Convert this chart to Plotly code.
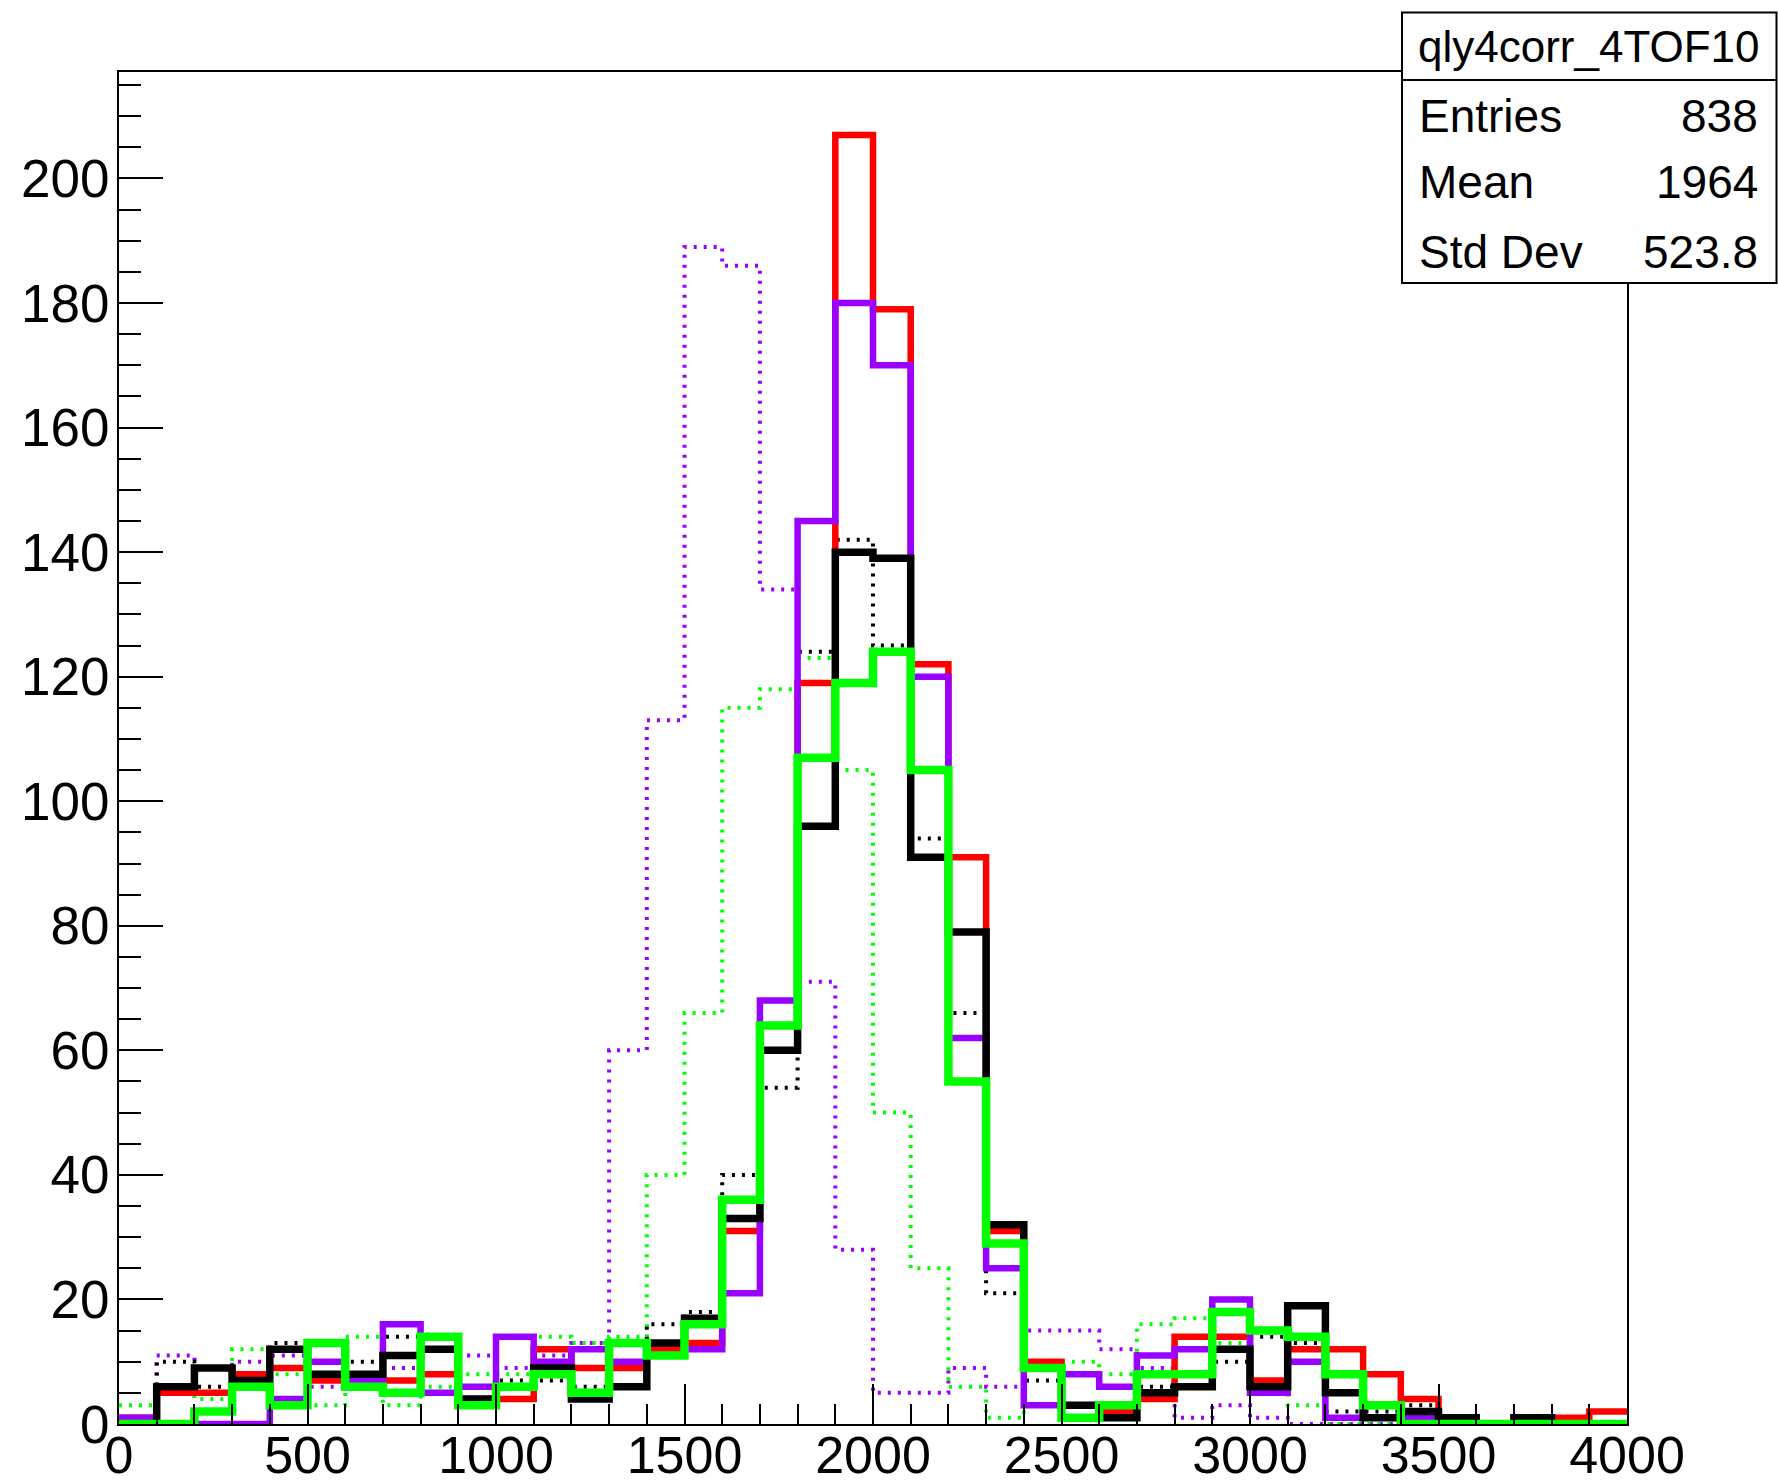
import plotly.graph_objects as go

# ---------------- data (counts per 100-wide bin, 0..4000) ----------------
BIN_WIDTH = 100
N_BINS = 40
bin_edges = [i * BIN_WIDTH for i in range(N_BINS + 1)]

red_solid = [1, 5, 5, 8, 9, 7, 7, 7, 8, 4,
             4, 12, 9, 9, 12, 13, 31, 60, 119, 207,
             179, 122, 91, 31, 10, 3, 2, 4, 14, 14,
             7, 12, 12, 8, 4, 0, 0, 1, 1, 2]
purple_solid = [1, 0, 0, 0, 4, 10, 7, 16, 5, 6,
                14, 10, 12, 10, 11, 12, 21, 68, 145, 180,
                170, 120, 62, 25, 3, 8, 6, 11, 12, 20,
                5, 10, 1, 1, 1, 0, 0, 0, 0, 0]
black_solid = [0, 6, 9, 7, 12, 8, 8, 11, 12, 4,
               6, 9, 4, 6, 13, 17, 33, 60, 96, 140,
               139, 91, 79, 32, 9, 3, 1, 5, 6, 12,
               6, 19, 5, 1, 2, 1, 0, 1, 0, 0]
green_solid = [0, 0, 2, 6, 3, 13, 6, 5, 14, 3,
               6, 8, 5, 13, 11, 16, 36, 64, 107, 119,
               124, 105, 55, 29, 9, 1, 3, 8, 8, 18,
               15, 14, 8, 3, 0, 0, 0, 0, 0, 0]
purple_dotted = [1, 11, 9, 10, 11, 6, 7, 9, 8, 11,
                 9, 11, 13, 60, 113, 189, 186, 134, 71, 28,
                 5, 5, 9, 6, 15, 15, 12, 9, 1, 3,
                 1, 0, 0, 0, 0, 0, 0, 0, 0, 0]
green_dotted = [3, 5, 4, 12, 8, 3, 14, 3, 6, 8,
                8, 14, 13, 14, 40, 66, 115, 118, 123, 105,
                50, 25, 6, 1, 3, 10, 8, 16, 17, 13,
                7, 3, 0, 0, 0, 0, 0, 1, 0, 0]
black_dotted = [1, 10, 6, 8, 13, 8, 10, 14, 12, 6,
                7, 7, 6, 9, 16, 18, 40, 54, 124, 142,
                125, 94, 66, 21, 7, 3, 2, 6, 6, 10,
                14, 13, 2, 2, 3, 1, 0, 0, 0, 0]

stats_title = "qly4corr_4TOF10"
stats_labels = ["Entries", "Mean", "Std Dev"]
stats_values = ["838", "1964", "523.8"]

Y_MAX = 217.1
X_MAX = 4000

# ---------------- layout geometry (pixels) ----------------
W, H = 1778, 1484
L, R, T, B = 119, 151, 72, 60
PW, PH = W - L - R, H - T - B


def px_x(x):
    return (x - L) / PW


def px_y(y):
    return (H - B - y) / PH


FONT = "Liberation Sans, Arial, Helvetica, sans-serif"
PURPLE = "#9900ff"
GREEN = "#00ff00"
RED = "#ff0000"
BLACK = "#000000"

fig = go.Figure()


def step_trace(vals, color, width, dash="solid"):
    ys = list(vals) + [vals[-1]]
    return go.Scatter(x=bin_edges, y=ys, mode="lines",
                      line=dict(color=color, width=width, dash=dash, shape="hv"),
                      showlegend=False, hoverinfo="skip")


DOT = "3px,7px"
fig.add_trace(step_trace(purple_dotted, PURPLE, 4, DOT))
fig.add_trace(step_trace(green_dotted, GREEN, 4, DOT))
fig.add_trace(step_trace(black_dotted, BLACK, 4, DOT))
fig.add_trace(step_trace(red_solid, RED, 6.5))
fig.add_trace(step_trace(purple_solid, PURPLE, 6.5))
fig.add_trace(step_trace(black_solid, BLACK, 7.5))
fig.add_trace(step_trace(green_solid, GREEN, 8.5))

axis_common = dict(
    showgrid=False, zeroline=False, showline=True, linecolor="black",
    linewidth=2, mirror=True, ticks="inside", tickcolor="black",
    tickwidth=2,
)

fig.update_xaxes(range=[0, X_MAX], tick0=0, dtick=500, ticklen=40,
                 ticklabelstandoff=-15,
                 tickfont=dict(family=FONT, size=52, color="black"),
                 minor=dict(dtick=100, ticklen=20, ticks="inside",
                            tickcolor="black", tickwidth=2),
                 **axis_common)
fig.update_yaxes(range=[0, Y_MAX], tick0=0, dtick=20, ticklen=44,
                 ticklabelstandoff=-3,
                 tickfont=dict(family=FONT, size=53, color="black"),
                 minor=dict(dtick=5, ticklen=22, ticks="inside",
                            tickcolor="black", tickwidth=2),
                 **axis_common)

# stats box
box_l, box_r, box_t, box_b, box_div = 1402, 1776.5, 12.5, 283, 80
fig.add_shape(type="rect", xref="paper", yref="paper",
              x0=px_x(box_l), x1=px_x(box_r), y0=px_y(box_b), y1=px_y(box_t),
              line=dict(color="black", width=2), fillcolor="white", layer="above")
fig.add_shape(type="line", xref="paper", yref="paper",
              x0=px_x(box_l), x1=px_x(box_r), y0=px_y(box_div), y1=px_y(box_div),
              line=dict(color="black", width=2), layer="above")

fig.add_annotation(text=stats_title, xref="paper", yref="paper",
                   x=px_x((box_l + box_r) / 2), y=px_y(46), showarrow=False,
                   xanchor="center", yanchor="middle",
                   font=dict(family=FONT, size=44, color="black"))
rows_y = [116, 182, 252]
for lab, val, yy in zip(stats_labels, stats_values, rows_y):
    fig.add_annotation(text=lab, xref="paper", yref="paper", x=px_x(1417), y=px_y(yy),
                       showarrow=False, xanchor="left", yanchor="middle",
                       font=dict(family=FONT, size=46, color="black"))
    fig.add_annotation(text=val, xref="paper", yref="paper", x=px_x(1760), y=px_y(yy),
                       showarrow=False, xanchor="right", yanchor="middle",
                       font=dict(family=FONT, size=46, color="black"))

fig.update_layout(width=W, height=H, margin=dict(l=L, r=R, t=T, b=B, autoexpand=False),
                  paper_bgcolor="white", plot_bgcolor="white")

fig.write_html("out.html")
